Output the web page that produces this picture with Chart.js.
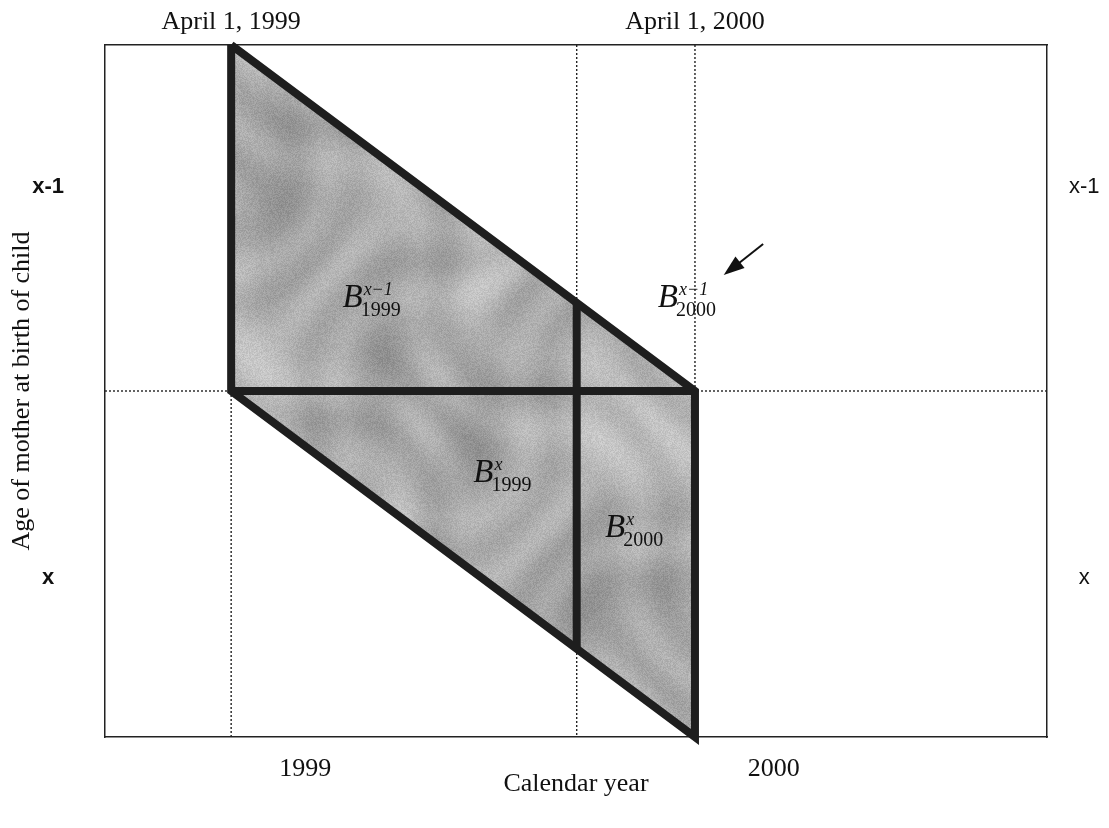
<!DOCTYPE html>
<html>
<head>
<meta charset="utf-8">
<script src="https://cdn.jsdelivr.net/npm/chart.js@4"></script>
<style>
  html, body { margin: 0; padding: 0; background: #fff; }
</style>
</head>
<body>
<canvas id="lexis" width="1109" height="828"></canvas>
<script>
// calendar time in years, age in years above x-1 (0 = top of the diagram)
const timeRange = [1998.978, 2001.009];
const ageRange = [0, 2];

const yearTicks = [1999.41, 2000.42];
const yearLabels = ["1999", "2000"];
const dateTicks = [1999.25, 2000.25];
const dateLabels = ["April 1, 1999", "April 1, 2000"];
const ageTicks = [0.41, 1.54];
const ageLabels = ["x-1", "x"];

// shaded parallelogram, upper and lower edges
const upperEdge = [{ x: 1999.25, y: 0 }, { x: 2000.25, y: 1 }];
const lowerEdge = [{ x: 1999.25, y: 1 }, { x: 2000.25, y: 2 }];

// thick black lines
const outline = [
  { x: 1999.25, y: 0 },
  { x: 2000.25, y: 1 },
  { x: 2000.25, y: 2 },
  { x: 1999.25, y: 1 },
  { x: 1999.25, y: 0 },
];
const exactAgeLine = [{ x: 1999.25, y: 1 }, { x: 2000.25, y: 1 }];
const newYearLine = [{ x: 1999.995, y: 0.745 }, { x: 1999.995, y: 1.745 }];

// dotted guides
const guideApril1999 = [{ x: 1999.25, y: 1 }, { x: 1999.25, y: 2 }];
const guideJan2000 = [{ x: 1999.995, y: 0 }, { x: 1999.995, y: 2 }];
const guideApril2000 = [{ x: 2000.25, y: 0 }, { x: 2000.25, y: 2 }];
const guideAge = [{ x: timeRange[0], y: 1 }, { x: timeRange[1], y: 1 }];

// B labels (left end of the "B", baseline)
const birthLabels = [
  { x: 1999.49, y: 0.757, sup: "x\u22121", sub: "1999" },
  { x: 2000.17, y: 0.757, sup: "x\u22121", sub: "2000" },
  { x: 1999.772, y: 1.263, sup: "x", sub: "1999" },
  { x: 2000.056, y: 1.422, sup: "x", sub: "2000" },
];
const arrowFrom = { x: 2000.397, y: 0.575 };
const arrowTo = { x: 2000.312, y: 0.665 };

const serif = "'Liberation Serif', 'Times New Roman', serif";
const sans = "'Liberation Sans', Arial, sans-serif";

function makeTexture(w, h) {
  const c = document.createElement("canvas");
  c.width = w;
  c.height = h;
  const g = c.getContext("2d");
  const img = g.createImageData(w, h);
  for (let j = 0; j < h; j++) {
    for (let i = 0; i < w; i++) {
      const a = Math.sin(i * 0.047 + Math.sin(j * 0.023) * 2.4);
      const b = Math.cos(j * 0.039 - Math.sin(i * 0.029) * 1.8);
      const c2 = Math.sin((i + j) * 0.017 + Math.cos(i * 0.011) * 3);
      const r = Math.sin(i * 12.9898 + j * 78.233) * 43758.5453;
      const grain = (r - Math.floor(r)) - 0.5;
      let v = 172 + a * b * 18 + c2 * 10 + grain * 24;
      v = Math.max(120, Math.min(225, v));
      const k = (j * w + i) * 4;
      img.data[k] = v;
      img.data[k + 1] = v;
      img.data[k + 2] = v;
      img.data[k + 3] = 255;
    }
  }
  g.putImageData(img, 0, 0);
  return g.createPattern(c, "repeat");
}

const thick = {
  borderColor: "#1e1e1e",
  borderWidth: 8,
  borderJoinStyle: "miter",
  borderCapStyle: "butt",
  pointRadius: 0,
  showLine: true,
  fill: false,
  clip: false,
  order: 1,
};
const dotted = {
  borderColor: "#222",
  borderWidth: 1.4,
  borderDash: [2, 2],
  pointRadius: 0,
  showLine: true,
  fill: false,
  order: 10,
};

const labelPlugin = {
  id: "lexisLabels",
  afterDatasetsDraw(chart) {
    const { ctx, scales } = chart;
    const xs = scales.x;
    const ys = scales.y;
    ctx.save();
    ctx.fillStyle = "#111";
    ctx.textBaseline = "alphabetic";
    ctx.textAlign = "left";
    birthLabels.forEach((l) => {
      const px = xs.getPixelForValue(l.x);
      const py = ys.getPixelForValue(l.y);
      ctx.font = "italic 33px " + serif;
      ctx.fillText("B", px, py);
      const w = ctx.measureText("B").width;
      ctx.font = "italic 18px " + serif;
      ctx.fillText(l.sup, px + w + 1, py - 12);
      ctx.font = "20px " + serif;
      ctx.fillText(l.sub, px + w - 2, py + 9);
    });
    // arrow pointing at the small triangle
    const x1 = xs.getPixelForValue(arrowFrom.x);
    const y1 = ys.getPixelForValue(arrowFrom.y);
    const x2 = xs.getPixelForValue(arrowTo.x);
    const y2 = ys.getPixelForValue(arrowTo.y);
    const ang = Math.atan2(y2 - y1, x2 - x1);
    const head = 22;
    ctx.strokeStyle = "#111";
    ctx.lineWidth = 2;
    ctx.beginPath();
    ctx.moveTo(x1, y1);
    ctx.lineTo(x2 - Math.cos(ang) * head * 0.8, y2 - Math.sin(ang) * head * 0.8);
    ctx.stroke();
    ctx.beginPath();
    ctx.moveTo(x2, y2);
    ctx.lineTo(x2 - head * Math.cos(ang - 0.34), y2 - head * Math.sin(ang - 0.34));
    ctx.lineTo(x2 - head * Math.cos(ang + 0.34), y2 - head * Math.sin(ang + 0.34));
    ctx.closePath();
    ctx.fill();
    ctx.restore();
  },
};

function fixedTicks(values) {
  return (scale) => {
    scale.ticks = values.map((v) => ({ value: v }));
  };
}

function fixSize(w, h) {
  return (s) => {
    if (w) s.width = w;
    if (h) s.height = h;
    s.paddingTop = 0;
    s.paddingBottom = 0;
    s.paddingLeft = 0;
    s.paddingRight = 0;
  };
}

const frame = { display: true, color: "#222", width: 1.5 };
const noGrid = { display: false, drawTicks: false };

new Chart(document.getElementById("lexis"), {
  type: "scatter",
  data: {
    datasets: [
      {
        data: upperEdge,
        borderWidth: 0,
        pointRadius: 0,
        showLine: true,
        backgroundColor: makeTexture(1109, 828),
        fill: "+1",
        order: 5,
      },
      {
        data: lowerEdge,
        borderWidth: 0,
        pointRadius: 0,
        showLine: true,
        fill: false,
        order: 6,
      },
      { ...thick, data: outline },
      { ...thick, data: exactAgeLine },
      { ...thick, data: newYearLine },
      { ...dotted, data: guideApril1999 },
      { ...dotted, data: guideJan2000 },
      { ...dotted, data: guideApril2000 },
      { ...dotted, data: guideAge },
    ],
  },
  options: {
    responsive: false,
    animation: false,
    layout: { padding: 0 },
    plugins: { legend: { display: false }, tooltip: { enabled: false } },
    scales: {
      x: {
        type: "linear",
        position: "bottom",
        min: timeRange[0],
        max: timeRange[1],
        grid: noGrid,
        border: frame,
        afterBuildTicks: fixedTicks(yearTicks),
        afterFit: fixSize(0, 91),
        ticks: {
          padding: 17,
          color: "#111",
          font: { family: serif, size: 26 },
          callback: (v, i) => yearLabels[i],
        },
        title: {
          display: true,
          text: "Calendar year",
          color: "#111",
          font: { family: serif, size: 26 },
          padding: { top: 0, bottom: 28 },
        },
      },
      x2: {
        type: "linear",
        position: "top",
        min: timeRange[0],
        max: timeRange[1],
        grid: noGrid,
        border: frame,
        afterBuildTicks: fixedTicks(dateTicks),
        afterFit: fixSize(0, 45),
        ticks: {
          padding: 7,
          color: "#111",
          font: { family: serif, size: 26 },
          callback: (v, i) => dateLabels[i],
        },
      },
      y: {
        type: "linear",
        position: "left",
        reverse: true,
        min: ageRange[0],
        max: ageRange[1],
        grid: noGrid,
        border: frame,
        afterBuildTicks: fixedTicks(ageTicks),
        afterFit: fixSize(105, 0),
        ticks: {
          padding: 41,
          crossAlign: "center",
          color: "#111",
          font: { family: sans, size: 22, weight: "bold" },
          callback: (v, i) => ageLabels[i],
        },
        title: {
          display: true,
          text: "Age of mother at birth of child",
          color: "#111",
          font: { family: serif, size: 26 },
          padding: { top: 7, bottom: 0 },
        },
      },
      y2: {
        type: "linear",
        position: "right",
        reverse: true,
        min: ageRange[0],
        max: ageRange[1],
        grid: noGrid,
        border: frame,
        afterBuildTicks: fixedTicks(ageTicks),
        afterFit: fixSize(62, 0),
        ticks: {
          padding: 22,
          crossAlign: "center",
          color: "#111",
          font: { family: sans, size: 22 },
          callback: (v, i) => ageLabels[i],
        },
      },
    },
  },
  plugins: [labelPlugin],
});
</script>
</body>
</html>
